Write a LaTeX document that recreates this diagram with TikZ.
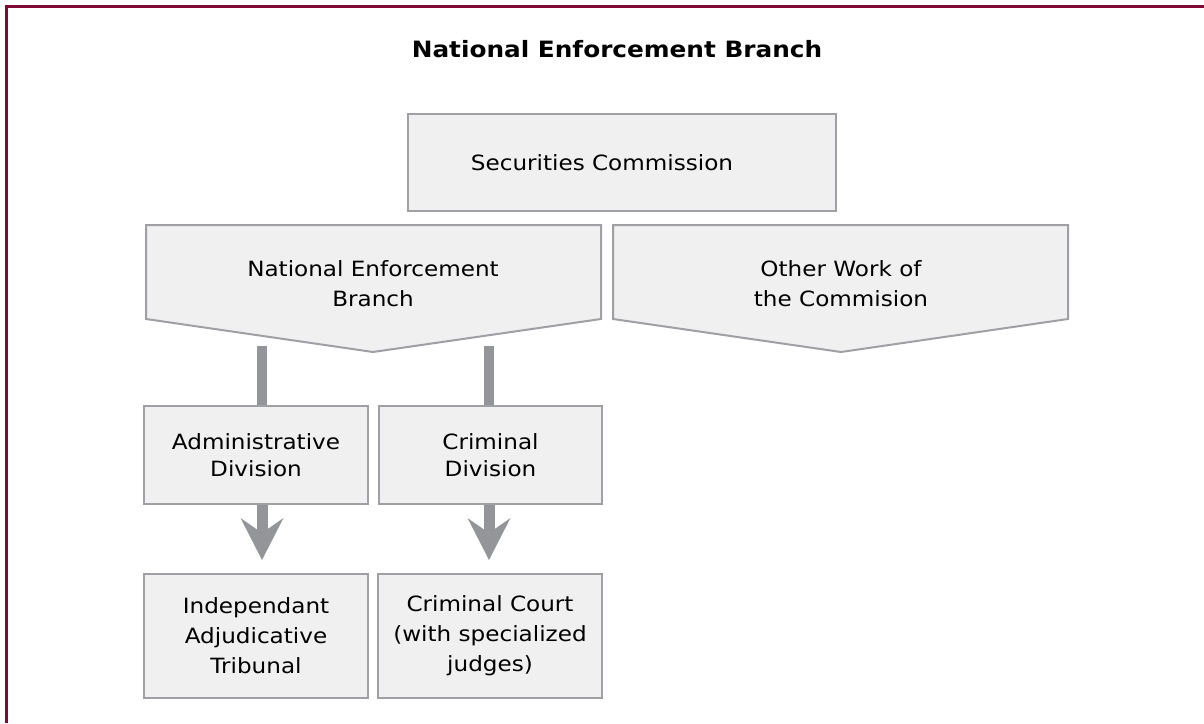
\documentclass[tikz,border=0pt]{standalone}
\usepackage{fontspec}
\setmainfont{DejaVu Sans}[FakeStretch=1.1]
\usetikzlibrary{arrows.meta}

\definecolor{framered}{RGB}{128,10,55}
\definecolor{boxfill}{RGB}{240,240,240}
\definecolor{boxline}{RGB}{160,160,164}
\definecolor{arrowgray}{RGB}{147,149,152}

\tikzset{
  unit/.style={draw=boxline, fill=boxfill, line width=2pt, align=center, inner sep=0pt},
  chevron/.style={draw=boxline, fill=boxfill, line width=2pt, line join=miter},
  label/.style={align=center, inner sep=0pt},
  bar/.style={draw=arrowgray, line width=10pt},
  fatarrow/.style={draw=arrowgray, line width=11pt, shorten >=13pt,
    -{Stealth[length=42pt, width=43pt, inset=15pt, line width=0pt]}},
}

\begin{document}
\begin{tikzpicture}[x=1pt, y=-1pt, font=\fontsize{21}{30}\selectfont]
      \useasboundingbox (0,0) rectangle (1204,723);
      \draw[framered, line width=3pt] (1204,6.5) -- (6.5,6.5) -- (6.5,723);
      \node[label, anchor=base] (title) at (617,57) {\fontsize{22.5}{27}\selectfont\bfseries National Enforcement Branch};

      \node[unit, minimum width=428pt, minimum height=97pt] (sec) at (622,162.5) {};
      \node[label] (secl) at (602,162.5) {Securities Commission};

      \draw[chevron] (146,225) -- (601,225) -- (601,319) -- (373,352) -- (146,319) -- cycle;
      \draw[chevron] (613,225) -- (1068,225) -- (1068,319) -- (841,352) -- (613,319) -- cycle;
      \node[label] (neb) at (373,284) {National Enforcement\\Branch};
      \node[label] (other) at (841,284) {Other Work of\\the Commision};

      \node[unit, minimum width=224pt, minimum height=98pt, font=\fontsize{21}{27}\selectfont] (adm) at (256,455) {Administrative\\Division};
      \node[unit, minimum width=223pt, minimum height=98pt, font=\fontsize{21}{27}\selectfont] (crd) at (490.5,455) {Criminal\\Division};
      \node[unit, minimum width=224pt, minimum height=124pt] (ind) at (256,636) {Independant\\Adjudicative\\Tribunal};
      \node[unit, minimum width=224pt, minimum height=124pt] (crc) at (490,636) {Criminal Court\\(with specialized\\judges)};

      \coordinate (b1) at (262,346);
      \coordinate (b2) at (489,346);
      \draw[bar] (b1) -- (b1 |- adm.north);
      \draw[bar] (b2) -- (b2 |- crd.north);
      \draw[fatarrow] (b1 |- adm.south) -- (b1 |- ind.north);
      \draw[fatarrow] (b2 |- crd.south) -- (b2 |- crc.north);
\end{tikzpicture}
\end{document}
